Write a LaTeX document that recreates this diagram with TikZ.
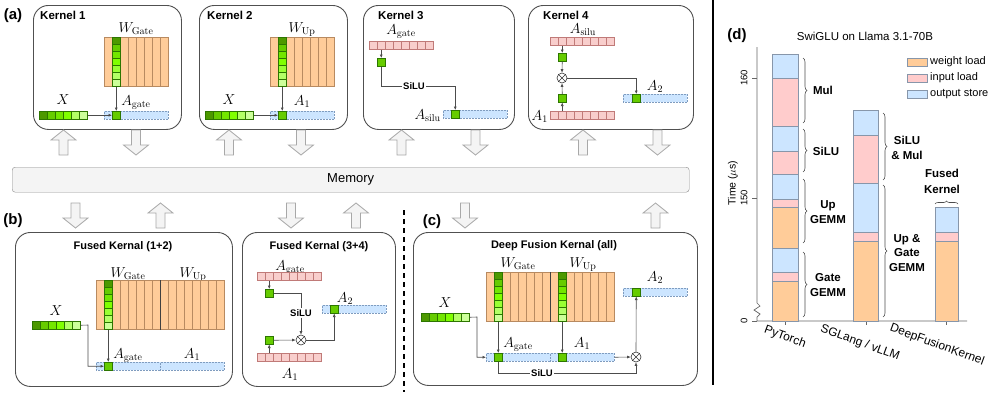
\documentclass[tikz,border=0pt]{standalone}
\usepackage[no-math]{fontspec}
\setmainfont{Liberation Sans}
\usetikzlibrary{arrows.meta,decorations.pathreplacing,calc}

\definecolor{orF}{HTML}{FFCC99}
\definecolor{orD}{HTML}{B88A60}
\definecolor{pkF}{HTML}{F8CECC}
\definecolor{pkD}{HTML}{C07A78}
\definecolor{blF}{HTML}{CCE5FF}
\definecolor{blD}{HTML}{7F9CBF}
\definecolor{gD}{HTML}{2D7600}
\definecolor{g1}{HTML}{4D9900}
\definecolor{g2}{HTML}{66CC00}
\definecolor{g3}{HTML}{73E600}
\definecolor{g4}{HTML}{80FF00}
\definecolor{g5}{HTML}{99FF33}
\definecolor{g6}{HTML}{B3FF66}
\definecolor{g7}{HTML}{CCFF99}
\definecolor{bxD}{HTML}{505050}
\definecolor{arF}{HTML}{F4F4F4}
\definecolor{arD}{HTML}{A8A8A8}
\definecolor{chO}{HTML}{FFCC99}
\definecolor{chP}{HTML}{FFCCCC}
\definecolor{chB}{HTML}{CCE5FF}
\definecolor{chD}{HTML}{8796AA}

\tikzset{
  x=1pt, y=-1pt,
  kbox/.style={draw=bxD, line width=0.9pt, rounded corners=15pt, inner sep=0, anchor=north west},
  ktitle/.style={font=\fontsize{11}{13}\selectfont\bfseries, anchor=base west, inner sep=0},
  panel/.style={font=\fontsize{15}{17}\selectfont\bfseries, inner sep=0},
  lab/.style={font=\fontsize{14}{16}\selectfont, anchor=base, inner sep=0},
  cell/.style={minimum width=8pt, minimum height=8pt, inner sep=0, anchor=north west, line width=0.5pt},
  gcell/.style={cell, draw=gD, fill=#1},
  gcell/.default=g2,
  pcell/.style={cell, draw=pkD, fill=pkF},
  wcol/.style={draw=orD, fill=orF, minimum width=8pt, minimum height=49pt, inner sep=0, anchor=north west, line width=0.5pt},
  obar/.style={draw=blD, densely dotted, fill=blF, inner sep=0, anchor=north west, minimum height=8pt, line width=0.5pt},
  wire/.style={draw=black!70, line width=0.6pt},
  arr/.style={wire, -{Latex[length=3.5pt,width=3pt]}},
  op/.style={circle, draw=black!80, fill=white, inner sep=0, minimum size=10pt, line width=0.6pt},
  silu/.style={font=\fontsize{9.5}{11}\selectfont\bfseries, inner sep=1pt, fill=white},
  blk/.style={fill=arF, draw=arD, line width=0.8pt, line join=miter},
  axis/.style={draw=black!60, line width=0.7pt},
  barseg/.style={draw=chD, line width=0.7pt},
  brc/.style={decorate, decoration={brace, amplitude=4pt}, draw=black!70, line width=0.6pt},
  chlab/.style={font=\fontsize{11.5}{14.5}\selectfont\bfseries, align=center, inner sep=0},
  legt/.style={font=\fontsize{11}{13}\selectfont, anchor=west, inner sep=0},
  tickl/.style={font=\fontsize{9.5}{11}\selectfont, rotate=90, inner sep=0},
  xlab/.style={font=\fontsize{12}{14}\selectfont, rotate=-20, inner sep=0},
}

\newcommand\gcol[3]{\foreach \i/\c in {1/g1,2/g2,3/g3,4/g4,5/g5,6/g6,7/g7}
  \node[gcell=\c, minimum height=7pt] (#1-\i) at (#2,{#3+(\i-1)*7}) {};}
\newcommand\xvec[3]{\foreach \i/\c in {1/g1,2/g2,3/g3,4/g4,5/g6,6/g7}
  \node[gcell=\c] (#1-\i) at ({#2+(\i-1)*8},#3) {};}
\newcommand\pvec[3]{\foreach \i in {1,...,8}
  \node[pcell] (#1-\i) at ({#2+(\i-1)*8},#3) {};}
\newcommand\wmat[4]{\foreach \i in {1,...,#4}
  \node[wcol] (#1-\i) at ({#2+(\i-1)*8},#3) {};}
\newcommand\opcross[1]{\draw[line width=0.6pt,black!80] (#1.north west) -- (#1.south east) (#1.north east) -- (#1.south west);}
\newcommand\blkup[3]{\draw[blk] (#1,#2) -- ({#1+12.5},{#2+10}) -- ({#1+4.5},{#2+10}) -- ({#1+4.5},#3) -- ({#1-4.5},#3) -- ({#1-4.5},{#2+10}) -- ({#1-12.5},{#2+10}) -- cycle;}
\newcommand\blkdn[3]{\draw[blk] (#1,#3) -- ({#1+12.5},{#3-10}) -- ({#1+4.5},{#3-10}) -- ({#1+4.5},#2) -- ({#1-4.5},#2) -- ({#1-4.5},{#3-10}) -- ({#1-12.5},{#3-10}) -- cycle;}
\newcommand\seg[5]{\draw[barseg, fill=#5] (#1,#3) rectangle (#2,#4);}

\begin{document}
\begin{tikzpicture}
\useasboundingbox (0,0) rectangle (996,392);

% ---------------- (a) ----------------
\node[panel] (pa) at (13,16) {(a)};

% Kernel 1
\node[kbox, minimum width=148pt, minimum height=124pt] (K1) at (33,5) {};
\node[ktitle, font=\fontsize{11.5}{13}\selectfont\bfseries] at (40,19.5) {Kernel 1};
\wmat{k1W}{104}{37}{8}
\gcol{k1c}{112}{37}
\node[lab] at (136,32) {$W_{\mathrm{Gate}}$};
\xvec{k1x}{39}{111}
\node[lab] at (63,104.5) {$X$};
\node[obar, minimum width=64pt] (k1o) at (104,111) {};
\node[gcell] (k1a) at (112,111) {};
\node[lab] at (136,105) {$A_{\mathrm{gate}}$};
\draw[arr] (k1c-7.south) -- (k1a.north);
\draw[arr] (k1x-6.east) -- (k1a.west);

% Kernel 2
\node[kbox, minimum width=148pt, minimum height=124pt] (K2) at (199,5) {};
\node[ktitle, font=\fontsize{11.5}{13}\selectfont\bfseries] at (207,19.5) {Kernel 2};
\wmat{k2W}{270}{37}{8}
\gcol{k2c}{278}{37}
\node[lab] at (302,32) {$W_{\mathrm{Up}}$};
\xvec{k2x}{205}{111}
\node[lab] at (229,104.5) {$X$};
\node[obar, minimum width=64pt] (k2o) at (270,111) {};
\node[gcell] (k2a) at (278,111) {};
\node[lab] at (302,105) {$A_1$};
\draw[arr] (k2c-7.south) -- (k2a.north);
\draw[arr] (k2x-6.east) -- (k2a.west);

% Kernel 3
\node[kbox, minimum width=151pt, minimum height=124pt] (K3) at (363,5) {};
\node[ktitle, font=\fontsize{11.5}{13}\selectfont\bfseries] at (378,19.5) {Kernel 3};
\node[lab] at (401,34) {$A_{\mathrm{gate}}$};
\pvec{k3p}{369}{41}
\node[gcell] (k3g) at (377,58) {};
\draw[arr] (k3p-2.south) -- (k3g.north);
\node[silu] (k3s) at (414,86) {SiLU};
\draw[wire] (k3g.south) |- (k3s.west);
\node[obar, minimum width=64pt] (k3o) at (443,110) {};
\node[gcell] (k3a) at (451,110) {};
\draw[arr] (k3s.east) -| (k3a.north);
\node[lab, anchor=base east] at (441,119) {$A_{\mathrm{silu}}$};

% Kernel 4
\node[kbox, minimum width=165pt, minimum height=124pt] (K4) at (528,5) {};
\node[ktitle, font=\fontsize{11.5}{13}\selectfont\bfseries] at (543,19.5) {Kernel 4};
\node[lab] at (583,33) {$A_{\mathrm{silu}}$};
\pvec{k4p}{550}{37}
\node[gcell] (k4g) at (558,53) {};
\node[op] (k4m) at (562,78) {};
\opcross{k4m}
\node[gcell] (k4h) at (558,94) {};
\pvec{k4q}{550}{111}
\node[lab, anchor=base east] at (548,120) {$A_1$};
\node[obar, minimum width=64pt] (k4o) at (623,94) {};
\node[gcell] (k4a) at (632,94) {};
\node[lab] at (655,90) {$A_2$};
\draw[arr] (k4p-2.south) -- (k4g.north);
\draw[arr] (k4g.south) -- (k4m.north);
\draw[arr] (k4q-2.north) -- (k4h.south);
\draw[arr] (k4h.north) -- (k4m.south);
\draw[arr] (k4m.east) -| (k4a.north);

% block arrows top row
\blkup{63.5}{130}{155}
\blkdn{136}{130}{155}
\blkup{229}{130}{155}
\blkdn{301}{130}{155}
\blkup{401.5}{130}{155}
\blkdn{475.5}{130}{155}
\blkup{583}{130}{155}
\blkdn{657.5}{130}{155}

% Memory
\node[draw=black!45, fill=arF, rounded corners=3pt, minimum width=677pt, minimum height=25pt, inner sep=0, anchor=north west, font=\fontsize{13}{15}\selectfont] (mem) at (12,167) {Memory};

% block arrows bottom row
\blkdn{75.5}{203}{228}
\blkup{160.5}{203}{228}
\blkdn{291}{203}{228}
\blkup{356}{203}{228}
\blkdn{465}{203}{228}
\blkup{655.5}{203}{228}

% ---------------- (b) ----------------
\node[panel] (pb) at (13,221) {(b)};

% Fused 1+2
\node[kbox, minimum width=217pt, minimum height=154pt] (B1) at (15,232) {};
\node[ktitle, anchor=base] at (123,249) {Fused Kernal (1+2)};
\node[lab] at (128,277) {$W_{\mathrm{Gate}}$};
\node[lab] at (193,277) {$W_{\mathrm{Up}}$};
\wmat{bW}{96}{280}{16}
\draw[black!75, line width=0.8pt] (bW-8.north east) -- (bW-8.south east);
\gcol{bc}{104}{280}
\xvec{bx}{32}{321}
\node[lab] at (56,315) {$X$};
\node[obar, minimum width=64pt] (bo1) at (96,362) {};
\node[obar, minimum width=64pt] (bo2) at (160,362) {};
\node[gcell] (ba) at (104,362) {};
\node[lab] at (128,358) {$A_{\mathrm{gate}}$};
\node[lab] at (192,358) {$A_1$};
\draw[arr] (bc-7.south) -- (ba.north);
\coordinate (bxk) at (88,325);
\draw[arr] (bx-6.east) -- (bxk) |- (ba.west);

% Fused 3+4
\node[kbox, minimum width=153pt, minimum height=154pt] (B2) at (242,232) {};
\node[ktitle, anchor=base] at (319,249) {Fused Kernal (3+4)};
\node[lab] at (290,270) {$A_{\mathrm{gate}}$};
\pvec{cp}{257}{272}
\node[gcell] (cg) at (265,289) {};
\draw[arr] (cp-2.south) -- (cg.north);
\node[op] (cm) at (301,340) {};
\opcross{cm}
\node[silu] (cs) at (301,313) {SiLU};
\draw[wire] (cg.east) -| (cs.north);
\draw[arr] (cs.south) -- (cm.north);
\node[gcell] (ch) at (265,336) {};
\pvec{cq}{257}{353}
\draw[arr] (cq-2.north) -- (ch.south);
\draw[arr] (ch.east) -- (cm.west);
\node[lab] at (290,378) {$A_1$};
\node[obar, minimum width=64pt] (co) at (322,305) {};
\node[gcell] (ca) at (330,305) {};
\draw[arr] (cm.east) -| (ca.south);
\node[lab] at (345,302) {$A_2$};

% separator
\draw[line width=1.4pt, dash pattern=on 5pt off 4pt] (404,210) -- (404,392);

% ---------------- (c) ----------------
\node[panel] (pc) at (432,222) {(c)};
\node[kbox, minimum width=284pt, minimum height=153pt] (C1) at (413,232) {};
\node[ktitle, anchor=base] at (554,248) {Deep Fusion Kernal (all)};
\node[lab] at (518,267) {$W_{\mathrm{Gate}}$};
\node[lab] at (583,267) {$W_{\mathrm{Up}}$};
\wmat{dW}{486}{272}{16}
\draw[black!75, line width=0.8pt] (dW-8.north east) -- (dW-8.south east);
\gcol{dc}{494}{272}
\gcol{de}{558}{272}
\xvec{dx}{421}{313}
\node[lab] at (445,307) {$X$};
\node[obar, minimum width=64pt] (do1) at (486,353) {};
\node[obar, minimum width=64pt] (do2) at (550,353) {};
\node[gcell] (da) at (494,353) {};
\node[gcell] (db) at (558,353) {};
\node[lab] at (518,347) {$A_{\mathrm{gate}}$};
\node[lab] at (582,347) {$A_1$};
\draw[arr] (dc-7.south) -- (da.north);
\draw[arr] (de-7.south) -- (db.north);
\coordinate (dxk) at (477,317);
\draw[arr] (dx-6.east) -- (dxk) |- (do1.west);
\node[op] (dm) at (636,357) {};
\opcross{dm}
\draw[arr] (do2.east) -- (dm.west);
\node[obar, minimum width=64pt] (d2o) at (623,288) {};
\node[gcell] (d2a) at (632,288) {};
\draw[arr] (dm.north) -- (d2a.south);
\node[lab] at (655,281) {$A_2$};
\node[silu] (ds) at (542,373) {SiLU};
\draw[wire] (da.south) |- (ds.west);
\draw[arr] (ds.east) -| (dm.south);

% ---------------- (d) ----------------
\draw[line width=2pt] (713,0) -- (713,385);
\node[panel] (pd) at (737,36) {(d)};
\node[font=\fontsize{11.5}{13}\selectfont, inner sep=0] (ttl) at (865,36) {SwiGLU on Llama 3.1-70B};

% axes
\draw[axis] (757,47) -- (757,303) -- (760,306) -- (754,310) -- (760,314) -- (757,317) -- (757,321) -- (967,321);
\draw[axis] (752,78) -- (757,78) (752,198) -- (757,198) (752,321) -- (757,321);
\draw[axis] (785,321) -- (785,325) (866,321) -- (866,325) (946,321) -- (946,325);
\node[tickl] at (744,78) {160};
\node[tickl] at (744,198) {150};
\node[tickl] at (744,321) {0};
\node[font=\fontsize{10.5}{12}\selectfont, rotate=90, inner sep=0] at (733,183) {Time ($\mu$s)};

% PyTorch bar
\seg{772}{798}{54}{78}{chB}
\seg{772}{798}{78}{126}{chP}
\seg{772}{798}{126}{151}{chB}
\seg{772}{798}{151}{174}{chP}
\seg{772}{798}{174}{199}{chB}
\seg{772}{798}{199}{207}{chP}
\seg{772}{798}{207}{248}{chO}
\seg{772}{798}{248}{272}{chB}
\seg{772}{798}{272}{281}{chP}
\seg{772}{798}{281}{321}{chO}
% SGLang bar
\seg{853}{878}{110}{135}{chB}
\seg{853}{878}{135}{183}{chP}
\seg{853}{878}{183}{232}{chB}
\seg{853}{878}{232}{241}{chP}
\seg{853}{878}{241}{321}{chO}
% DFK bar
\seg{935}{958}{207}{232}{chB}
\seg{935}{958}{232}{241}{chP}
\seg{935}{958}{241}{321}{chO}

% braces and labels
\draw[brc] (803,58) -- (803,123);
\node[chlab] at (823,90) {Mul};
\draw[brc] (803,129) -- (803,172);
\node[chlab] at (826,151) {SiLU};
\draw[brc] (803,179) -- (803,243);
\node[chlab] at (828,212) {Up\\GEMM};
\draw[brc] (803,252) -- (803,317);
\node[chlab] at (828,285) {Gate\\GEMM};
\draw[brc] (883,113) -- (883,180);
\node[chlab] at (907,148) {SiLU\\\& Mul};
\draw[brc] (883,185) -- (883,317);
\node[chlab] at (907,253) {Up \&\\Gate\\GEMM};
\draw[brc, decoration={brace, amplitude=3pt}] (935,204) -- (958,204);
\node[chlab, font=\fontsize{11.5}{16}\selectfont\bfseries] at (942,181) {Fused\\Kernel};

% legend
\node[draw=chD, fill=chO, minimum width=20pt, minimum height=8pt, inner sep=0, line width=0.7pt] (lg1) at (917,62) {};
\node[legt] at (930,62) {weight load};
\node[draw=chD, fill=chP, minimum width=20pt, minimum height=8pt, inner sep=0, line width=0.7pt] (lg2) at (917,78) {};
\node[legt] at (930,78) {input load};
\node[draw=chD, fill=chB, minimum width=20pt, minimum height=8pt, inner sep=0, line width=0.7pt] (lg3) at (917,94) {};
\node[legt] at (930,94) {output store};

% x labels
\node[xlab] at (785,337) {PyTorch};
\node[xlab] at (860,343) {SGLang / vLLM};
\node[xlab] at (937,345) {DeepFusionKernel};
\end{tikzpicture}
\end{document}
